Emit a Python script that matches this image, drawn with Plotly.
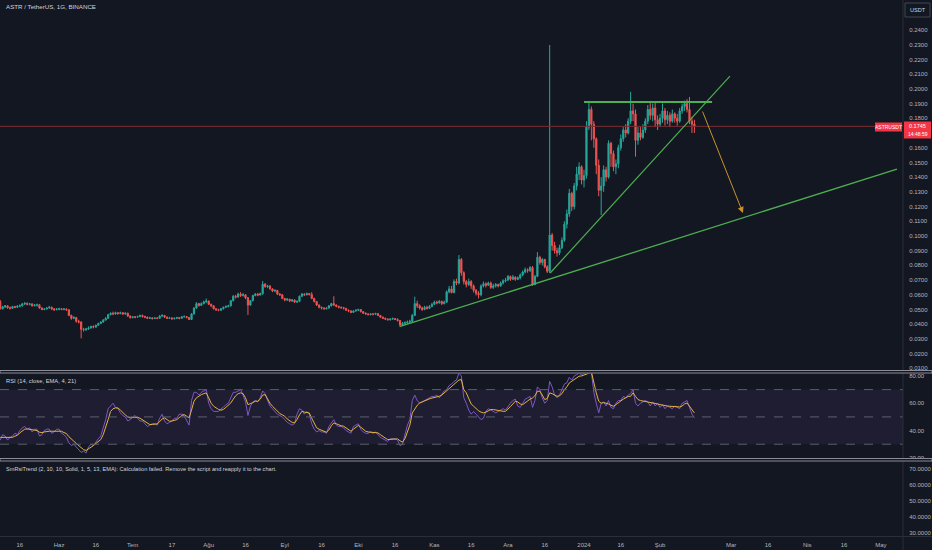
import pandas as pd
import plotly.graph_objects as go

# ASTR / TetherUS gunluk mumlar (08.05.2023 - 15.02.2024)
first_open = 0.0555

close = [
    0.0505, 0.0518, 0.0525, 0.0512, 0.0508, 0.0520, 0.0515, 0.0522, 0.0525, 0.0538,
    0.0542, 0.0535, 0.0538, 0.0525, 0.0530, 0.0532, 0.0510, 0.0500, 0.0503, 0.0510,
    0.0515, 0.0505, 0.0498, 0.0502, 0.0505, 0.0500, 0.0503, 0.0498, 0.0460, 0.0440,
    0.0445, 0.0420, 0.0415, 0.0365, 0.0362, 0.0368, 0.0375, 0.0385, 0.0380, 0.0392,
    0.0405, 0.0415, 0.0428, 0.0440, 0.0465, 0.0475, 0.0470, 0.0478, 0.0472, 0.0478,
    0.0470, 0.0475, 0.0455, 0.0445, 0.0450, 0.0448, 0.0452, 0.0460, 0.0452, 0.0448,
    0.0440, 0.0443, 0.0438, 0.0442, 0.0440, 0.0455, 0.0460, 0.0448, 0.0440, 0.0443,
    0.0437, 0.0440, 0.0445, 0.0440, 0.0450, 0.0452, 0.0445, 0.0432, 0.0470, 0.0510,
    0.0540, 0.0528, 0.0540, 0.0552, 0.0558, 0.0535, 0.0525, 0.0505, 0.0498, 0.0495,
    0.0505, 0.0515, 0.0520, 0.0525, 0.0560, 0.0590, 0.0585, 0.0605, 0.0595, 0.0600,
    0.0580, 0.0530, 0.0560, 0.0595, 0.0605, 0.0598, 0.0608, 0.0672, 0.0655, 0.0660,
    0.0640, 0.0625, 0.0630, 0.0605, 0.0600, 0.0575, 0.0565, 0.0570, 0.0558, 0.0565,
    0.0550, 0.0555, 0.0590, 0.0605, 0.0600, 0.0608, 0.0602, 0.0575, 0.0555, 0.0530,
    0.0515, 0.0510, 0.0505, 0.0510, 0.0525, 0.0540, 0.0530, 0.0522, 0.0515, 0.0512,
    0.0508, 0.0495, 0.0490, 0.0480, 0.0490, 0.0495, 0.0500, 0.0485, 0.0475, 0.0470,
    0.0465, 0.0470, 0.0468, 0.0472, 0.0460, 0.0448, 0.0440, 0.0435, 0.0430, 0.0435,
    0.0438, 0.0432, 0.0425, 0.0395, 0.0405, 0.0410, 0.0415, 0.0420, 0.0460, 0.0540,
    0.0525, 0.0510, 0.0500, 0.0515, 0.0508, 0.0520, 0.0535, 0.0550, 0.0545, 0.0555,
    0.0540, 0.0550, 0.0620, 0.0640, 0.0615, 0.0690, 0.0680, 0.0840, 0.0750, 0.0690,
    0.0670, 0.0690, 0.0660, 0.0630, 0.0610, 0.0600, 0.0660, 0.0675, 0.0665, 0.0680,
    0.0650, 0.0660, 0.0670, 0.0660, 0.0680, 0.0695, 0.0700, 0.0725, 0.0705, 0.0720,
    0.0705, 0.0715, 0.0735, 0.0755, 0.0770, 0.0765, 0.0785, 0.0670, 0.0725, 0.0855,
    0.0820, 0.0840, 0.0790, 0.0760, 0.1006, 0.0935, 0.0900, 0.0885, 0.0920, 0.0970,
    0.1080, 0.1150, 0.1290, 0.1200, 0.1340, 0.1420, 0.1470, 0.1380, 0.1410, 0.1740,
    0.1860, 0.1760, 0.1660, 0.1480, 0.1310, 0.1340, 0.1450, 0.1400, 0.1630, 0.1560,
    0.1470, 0.1490, 0.1600, 0.1660, 0.1720, 0.1700, 0.1780, 0.1850, 0.1830, 0.1650,
    0.1700, 0.1670, 0.1720, 0.1780, 0.1860, 0.1820, 0.1870, 0.1790, 0.1760, 0.1800,
    0.1850, 0.1790, 0.1820, 0.1780, 0.1830, 0.1800, 0.1780, 0.1850, 0.1880, 0.1900,
    0.1860, 0.1780, 0.1760, 0.1745,
]

high = [
    0.0565, 0.0525, 0.0530, 0.0528, 0.0520, 0.0525, 0.0525, 0.0530, 0.0535, 0.0545,
    0.0550, 0.0548, 0.0545, 0.0542, 0.0538, 0.0540, 0.0535, 0.0515, 0.0510, 0.0515,
    0.0525, 0.0520, 0.0510, 0.0510, 0.0512, 0.0510, 0.0510, 0.0508, 0.0500, 0.0465,
    0.0455, 0.0450, 0.0430, 0.0420, 0.0375, 0.0375, 0.0385, 0.0390, 0.0392, 0.0398,
    0.0410, 0.0420, 0.0435, 0.0448, 0.0470, 0.0480, 0.0485, 0.0485, 0.0482, 0.0485,
    0.0482, 0.0480, 0.0478, 0.0460, 0.0455, 0.0455, 0.0458, 0.0465, 0.0465, 0.0458,
    0.0452, 0.0450, 0.0448, 0.0448, 0.0447, 0.0462, 0.0468, 0.0462, 0.0452, 0.0450,
    0.0447, 0.0446, 0.0450, 0.0448, 0.0455, 0.0460, 0.0455, 0.0450, 0.0475, 0.0515,
    0.0550, 0.0545, 0.0548, 0.0560, 0.0575, 0.0560, 0.0540, 0.0528, 0.0510, 0.0505,
    0.0510, 0.0520, 0.0528, 0.0532, 0.0565, 0.0598, 0.0600, 0.0615, 0.0618, 0.0612,
    0.0605, 0.0585, 0.0565, 0.0600, 0.0612, 0.0612, 0.0615, 0.0694, 0.0680, 0.0668,
    0.0665, 0.0645, 0.0638, 0.0632, 0.0612, 0.0605, 0.0580, 0.0578, 0.0572, 0.0572,
    0.0568, 0.0562, 0.0595, 0.0612, 0.0610, 0.0615, 0.0612, 0.0618, 0.0580, 0.0558,
    0.0535, 0.0520, 0.0515, 0.0515, 0.0530, 0.0545, 0.0590, 0.0535, 0.0525, 0.0520,
    0.0518, 0.0510, 0.0500, 0.0495, 0.0495, 0.0500, 0.0505, 0.0502, 0.0490, 0.0480,
    0.0475, 0.0475, 0.0475, 0.0478, 0.0475, 0.0462, 0.0452, 0.0445, 0.0440, 0.0440,
    0.0445, 0.0442, 0.0440, 0.0428, 0.0415, 0.0420, 0.0425, 0.0430, 0.0470, 0.0587,
    0.0560, 0.0535, 0.0520, 0.0525, 0.0525, 0.0530, 0.0545, 0.0560, 0.0560, 0.0565,
    0.0560, 0.0560, 0.0630, 0.0660, 0.0660, 0.0705, 0.0710, 0.0870, 0.0850, 0.0760,
    0.0700, 0.0710, 0.0700, 0.0670, 0.0640, 0.0625, 0.0670, 0.0690, 0.0685, 0.0690,
    0.0690, 0.0675, 0.0680, 0.0675, 0.0690, 0.0705, 0.0715, 0.0735, 0.0730, 0.0735,
    0.0725, 0.0725, 0.0745, 0.0765, 0.0785, 0.0780, 0.0795, 0.0795, 0.0735, 0.0890,
    0.0865, 0.0850, 0.0845, 0.0800, 0.2298, 0.1020, 0.0960, 0.0920, 0.0940, 0.0990,
    0.1100, 0.1180, 0.1320, 0.1300, 0.1360, 0.1470, 0.1500, 0.1480, 0.1450, 0.1780,
    0.1913, 0.1880, 0.1780, 0.1670, 0.1520, 0.1400, 0.1480, 0.1470, 0.1650, 0.1640,
    0.1580, 0.1520, 0.1620, 0.1690, 0.1740, 0.1760, 0.1800, 0.1980, 0.1900, 0.1860,
    0.1740, 0.1740, 0.1760, 0.1800, 0.1890, 0.1910, 0.1900, 0.1910, 0.1820, 0.1830,
    0.1900, 0.1870, 0.1850, 0.1840, 0.1860, 0.1840, 0.1830, 0.1870, 0.1900, 0.1920,
    0.1930, 0.1945, 0.1810, 0.1790,
]

low = [
    0.0500, 0.0500, 0.0510, 0.0505, 0.0500, 0.0505, 0.0508, 0.0510, 0.0515, 0.0520,
    0.0530, 0.0528, 0.0528, 0.0520, 0.0522, 0.0520, 0.0505, 0.0495, 0.0495, 0.0500,
    0.0505, 0.0495, 0.0490, 0.0495, 0.0495, 0.0495, 0.0495, 0.0490, 0.0455, 0.0430,
    0.0435, 0.0410, 0.0405, 0.0304, 0.0350, 0.0355, 0.0362, 0.0370, 0.0372, 0.0378,
    0.0390, 0.0400, 0.0410, 0.0425, 0.0438, 0.0460, 0.0462, 0.0465, 0.0465, 0.0468,
    0.0462, 0.0465, 0.0450, 0.0438, 0.0440, 0.0440, 0.0445, 0.0448, 0.0445, 0.0440,
    0.0435, 0.0436, 0.0432, 0.0435, 0.0434, 0.0438, 0.0450, 0.0442, 0.0435, 0.0436,
    0.0430, 0.0432, 0.0436, 0.0433, 0.0438, 0.0445, 0.0440, 0.0428, 0.0430, 0.0465,
    0.0505, 0.0520, 0.0525, 0.0535, 0.0545, 0.0530, 0.0515, 0.0500, 0.0490, 0.0488,
    0.0490, 0.0500, 0.0510, 0.0515, 0.0520, 0.0555, 0.0575, 0.0580, 0.0585, 0.0588,
    0.0570, 0.0463, 0.0525, 0.0555, 0.0590, 0.0590, 0.0595, 0.0600, 0.0648, 0.0645,
    0.0635, 0.0618, 0.0618, 0.0598, 0.0592, 0.0570, 0.0555, 0.0558, 0.0550, 0.0552,
    0.0545, 0.0545, 0.0550, 0.0585, 0.0592, 0.0595, 0.0595, 0.0570, 0.0548, 0.0525,
    0.0508, 0.0500, 0.0498, 0.0500, 0.0505, 0.0520, 0.0525, 0.0515, 0.0508, 0.0505,
    0.0500, 0.0490, 0.0482, 0.0475, 0.0478, 0.0485, 0.0490, 0.0480, 0.0470, 0.0465,
    0.0460, 0.0460, 0.0460, 0.0462, 0.0455, 0.0442, 0.0435, 0.0428, 0.0425, 0.0425,
    0.0430, 0.0428, 0.0418, 0.0380, 0.0390, 0.0398, 0.0402, 0.0408, 0.0415, 0.0455,
    0.0510, 0.0500, 0.0490, 0.0495, 0.0500, 0.0505, 0.0515, 0.0530, 0.0535, 0.0540,
    0.0530, 0.0535, 0.0545, 0.0610, 0.0610, 0.0610, 0.0665, 0.0670, 0.0730, 0.0670,
    0.0650, 0.0660, 0.0640, 0.0615, 0.0595, 0.0576, 0.0590, 0.0650, 0.0650, 0.0660,
    0.0640, 0.0640, 0.0650, 0.0650, 0.0655, 0.0670, 0.0685, 0.0695, 0.0695, 0.0700,
    0.0695, 0.0700, 0.0705, 0.0725, 0.0745, 0.0750, 0.0755, 0.0660, 0.0665, 0.0720,
    0.0805, 0.0800, 0.0780, 0.0748, 0.0748, 0.0900, 0.0880, 0.0860, 0.0870, 0.0910,
    0.0960, 0.1050, 0.1130, 0.1170, 0.1180, 0.1310, 0.1380, 0.1350, 0.1330, 0.1390,
    0.1720, 0.1650, 0.1600, 0.1420, 0.1270, 0.1142, 0.1300, 0.1370, 0.1390, 0.1470,
    0.1440, 0.1420, 0.1460, 0.1580, 0.1640, 0.1670, 0.1690, 0.1760, 0.1780, 0.1539,
    0.1620, 0.1650, 0.1660, 0.1700, 0.1760, 0.1790, 0.1780, 0.1740, 0.1720, 0.1740,
    0.1770, 0.1750, 0.1760, 0.1740, 0.1770, 0.1770, 0.1750, 0.1770, 0.1830, 0.1850,
    0.1840, 0.1760, 0.1700, 0.1700,
]

# RSI (mor) ve EMA sinyal cizgisi (sari)
rsi = [
    33, 37, 36, 33, 35, 36, 38, 37, 40, 42,
    43, 41, 42, 39, 41, 41, 36, 37, 40, 41,
    41, 38, 39, 41, 41, 38, 37, 35, 31, 29,
    30, 28, 26, 24, 25, 23.5, 28, 30, 29, 32,
    34, 36, 42, 48, 56, 58, 60, 57, 56, 53,
    51, 50, 47, 48, 50, 51, 49, 47, 47, 45,
    43, 44, 45, 45, 44, 49, 52, 47, 45, 46,
    47, 49, 49, 52, 52, 51, 48, 44, 62, 68,
    68, 66, 68, 69, 70, 60, 56, 54, 54, 54,
    56, 57, 59, 60, 64, 68, 68, 69, 70, 66,
    61, 51, 58, 61, 62, 61, 64, 69, 67, 62,
    58, 56, 54, 52, 51, 50, 48, 46, 45, 44,
    45, 52, 56, 55, 52, 54, 52, 45, 41, 39,
    40, 39, 39, 38, 43, 46, 48, 44, 43, 43,
    42, 40, 39, 38, 43, 44, 45, 41, 39, 38,
    38, 39, 38, 39, 37, 35, 34, 33, 32, 34,
    34, 34, 33, 29, 30, 37, 44, 48, 62, 66,
    62, 60, 61, 62, 63, 64, 65, 65, 66, 64,
    67, 69, 70, 73, 74, 76, 77, 82, 80, 64,
    60, 55, 52, 54, 52, 50, 48, 49, 54, 56,
    55, 54, 53, 54, 55, 56, 55, 58, 60, 62,
    63, 58, 57, 60, 63, 64, 65, 57, 62, 72,
    70, 64, 60, 62, 76, 72, 66, 64, 66, 70,
    74, 75, 79, 77, 80, 81, 82, 81, 82, 83,
    84, 83, 68, 60, 53, 60, 61, 58, 62, 57,
    56, 60, 62, 62, 65, 64, 66, 67, 70, 60,
    58, 60, 61, 62, 61, 58, 61, 58, 60, 57,
    59, 56, 58, 57, 56, 58, 57, 56, 60, 61,
    62, 57, 52, 49.3,
]

rsi_ma = [
    35, 35, 35, 34.5, 34.6, 35, 35.9, 36.5, 38.3, 39.5,
    41, 41.2, 41, 40.7, 40.7, 40, 38.8, 38.5, 39, 39.5,
    39.5, 39.5, 39.5, 39.8, 40, 39.5, 38.5, 37.8, 35.5, 33.5,
    32.2, 30.5, 29, 27.3, 26, 25.4, 26.5, 28, 29, 30.5,
    32, 33.4, 37, 42, 48, 54, 56, 56.6, 56.6, 55,
    53, 51.5, 50, 49.3, 49.5, 49.8, 49.8, 49, 48, 47,
    45.5, 44.4, 44.5, 44.9, 44.9, 46.5, 48.5, 49.3, 48, 46.8,
    47, 47.5, 48, 49.5, 51, 51.7, 50.5, 49.3, 55, 61.5,
    64, 65.5, 66.3, 67, 67.6, 64, 60, 57.8, 56.5, 55.5,
    54.9, 55.5, 57, 58.5, 60.2, 63, 65.5, 67, 67.6, 67,
    64, 59, 59.5, 60.5, 61.5, 61.5, 63, 66, 66.3, 63,
    60, 57.8, 56, 54, 52.5, 51.5, 50.5, 48.5, 47, 46,
    45.6, 48, 51.5, 54.1, 53.5, 53, 52.9, 49, 45, 42,
    41, 40, 39.5, 38.8, 40.5, 43.5, 45.6, 45, 44, 43.5,
    43.2, 42, 40.5, 39.5, 41, 42.5, 43.7, 42.5, 41, 39.5,
    39, 38.8, 38.5, 38.5, 38.3, 37, 35.5, 34.5, 33.4, 33.5,
    33.8, 33.9, 33.9, 32.5, 31.5, 34, 39.5, 44, 52.9, 56,
    58.5, 60.2, 61, 62, 62.5, 63.2, 63.8, 64.2, 64.7, 65.1,
    66, 67.5, 68.8, 70.5, 72.5, 73.7, 75, 77, 77.3, 70,
    67.6, 63, 59.5, 57.8, 56, 54.5, 53.5, 52.9, 53.5, 54.5,
    55.4, 55.4, 55, 54.5, 54, 54.1, 54.1, 55.5, 57.5, 59.5,
    61.5, 61, 59.5, 59, 60.5, 62, 63, 63.9, 65.5, 68.8,
    68.8, 66, 62.7, 63.5, 67.6, 67, 66, 65.1, 65.5, 67,
    70, 72, 74.9, 76, 77.5, 78.5, 79.8, 80, 80.5, 81,
    82, 83, 75, 67.6, 61.5, 60, 60.5, 60.2, 59.5, 58.5,
    57.8, 59, 60.5, 61.5, 63, 64, 65, 65.1, 67.6, 65,
    62.7, 62, 61.7, 61.5, 61, 60.5, 60.2, 59.8, 59.5, 59,
    58.5, 58.2, 58, 57.8, 57.6, 57.5, 57.4, 57.3, 58, 59.5,
    60.2, 57.8, 55, 52.9,
]

last_price = 0.1745

# Zaman ekseni etiketleri
tick_dates = ['2023-05-16', '2023-06-01', '2023-06-16', '2023-07-01', '2023-07-17',
              '2023-08-01', '2023-08-16', '2023-09-01', '2023-09-16', '2023-10-01',
              '2023-10-16', '2023-11-01', '2023-11-16', '2023-12-01', '2023-12-16',
              '2024-01-01', '2024-01-16', '2024-02-01', '2024-03-01', '2024-03-16',
              '2024-04-01', '2024-04-16', '2024-05-01']
tick_text = ['16', 'Haz', '16', 'Tem', '17', 'Ağu', '16', 'Eyl', '16', 'Eki', '16', 'Kas',
             '16', 'Ara', '16', '2024', '16', 'Şub', 'Mar', '16', 'Nis', '16', 'May']

price_ticks = [0.01, 0.02, 0.03, 0.04, 0.05, 0.06, 0.07, 0.08, 0.09, 0.10, 0.11, 0.12,
               0.13, 0.14, 0.15, 0.16, 0.17, 0.18, 0.19, 0.20, 0.21, 0.22, 0.23, 0.24]
rsi_ticks = [20, 40, 60, 80]
trend_ticks = [30, 40, 50, 60, 70]

# Cizimler (trend cizgileri ve ok)
support_x = ['2023-10-18 02:00', '2024-05-07 14:00']
support_y = [0.0385, 0.1455]
rising_x = ['2023-12-18 05:00', '2024-02-29 12:00']
rising_y = [0.0748, 0.2087]
resist_x = ['2024-01-01 00:00', '2024-02-22 05:00']
resist_y = [0.191, 0.191]
arrow_x = ['2024-02-18 02:00', '2024-03-05 19:00']
arrow_y = [0.1856, 0.1156]

n = len(close)
dates = pd.date_range('2023-05-08', periods=n, freq='D')
opens = [first_open] + close[:-1]

W, H = 932, 550
BG = '#131722'
TXT = '#b2b5be'
FONT = 'Liberation Sans'
AX_END = 903 / W


def py(px):
    return 1 - px / H


fig = go.Figure()

fig.add_trace(go.Candlestick(
    x=dates, open=opens, high=high[:n], low=low[:n], close=close,
    increasing=dict(line=dict(color='#26a69a', width=1), fillcolor='#26a69a'),
    decreasing=dict(line=dict(color='#ef5350', width=1), fillcolor='#ef5350'),
    whiskerwidth=0, hoverinfo='skip', showlegend=False, xaxis='x', yaxis='y'))

fig.add_trace(go.Scatter(x=dates, y=rsi[:n], mode='lines', line=dict(color='#7e57c2', width=1),
                         hoverinfo='skip', showlegend=False, xaxis='x2', yaxis='y2'))
fig.add_trace(go.Scatter(x=dates, y=rsi_ma[:n], mode='lines', line=dict(color='#e3b341', width=1),
                         hoverinfo='skip', showlegend=False, xaxis='x2', yaxis='y2'))

# SmRsiTrend paneli hesaplanamadi: bos seri, sadece eksenler cizilsin diye
fig.add_trace(go.Scatter(x=[dates[0]], y=[None], mode='lines', hoverinfo='skip',
                         showlegend=False, xaxis='x3', yaxis='y3'))

x_range = ['2023-05-07 22:00', '2024-05-10 01:00']
common_x = dict(range=x_range, showgrid=False, zeroline=False, showline=False,
                domain=[0, AX_END], fixedrange=True)
axis_font = dict(size=6, color=TXT)

fig.update_layout(
    width=W, height=H,
    margin=dict(l=0, r=0, t=0, b=0),
    paper_bgcolor=BG, plot_bgcolor=BG,
    font=dict(family=FONT, color=TXT, size=6),
    xaxis=dict(**common_x, anchor='y', showticklabels=False, rangeslider=dict(visible=False)),
    xaxis2=dict(**common_x, anchor='y2', showticklabels=False, matches='x'),
    xaxis3=dict(**common_x, anchor='y3', matches='x', tickvals=tick_dates, ticktext=tick_text,
                tickfont=axis_font, ticks='outside', ticklen=3, tickcolor=BG, automargin=False),
    yaxis=dict(domain=[py(370), 1], range=[0.00887, 0.2604], side='right', anchor='x',
               tickvals=price_ticks, tickformat='.4f', showgrid=False, zeroline=False,
               tickfont=axis_font, ticks='outside', ticklen=4, tickcolor=BG, automargin=False),
    yaxis2=dict(domain=[py(458), py(373.5)], range=[19.9, 81.8], side='right', anchor='x2',
                tickvals=rsi_ticks, ticktext=['%.2f' % v for v in rsi_ticks], showgrid=False,
                zeroline=False, tickfont=axis_font, ticks='outside', ticklen=4,
                tickcolor=BG, automargin=False),
    yaxis3=dict(domain=[py(536), py(461)], range=[27.9, 75.2], side='right', anchor='x3',
                tickvals=trend_ticks, ticktext=['%.4f' % v for v in trend_ticks], showgrid=False,
                zeroline=False, tickfont=axis_font, ticks='outside', ticklen=4,
                tickcolor=BG, automargin=False),
)

shapes = []
# RSI bandi ve seviye cizgileri
shapes.append(dict(type='rect', xref='x2 domain', yref='y2', x0=0, x1=1, y0=30, y1=70,
                   fillcolor='rgba(126,87,194,0.10)', line=dict(width=0), layer='below'))
for lvl in [70, 50, 30]:
    shapes.append(dict(type='line', xref='x2 domain', yref='y2', x0=0, x1=1, y0=lvl, y1=lvl,
                       line=dict(color='#5d606b', width=1, dash='dash')))
# son fiyat cizgisi
shapes.append(dict(type='line', xref='x domain', yref='y', x0=0, x1=1, y0=last_price, y1=last_price,
                   line=dict(color='#7a2d33', width=1)))
# trend cizgileri
shapes.append(dict(type='line', xref='x', yref='y', x0=support_x[0], x1=support_x[1],
                   y0=support_y[0], y1=support_y[1], line=dict(color='#4caf50', width=1.3)))
shapes.append(dict(type='line', xref='x', yref='y', x0=rising_x[0], x1=rising_x[1],
                   y0=rising_y[0], y1=rising_y[1], line=dict(color='#4caf50', width=1.2)))
shapes.append(dict(type='line', xref='x', yref='y', x0=resist_x[0], x1=resist_x[1],
                   y0=resist_y[0], y1=resist_y[1], line=dict(color='#4caf50', width=2)))
# eksen kenarlari ve panel ayiricilari
shapes.append(dict(type='line', xref='paper', yref='paper', x0=AX_END, x1=AX_END, y0=0, y1=1,
                   line=dict(color='#2a2e39', width=1)))
shapes.append(dict(type='line', xref='paper', yref='paper', x0=0, x1=1, y0=py(536.5), y1=py(536.5),
                   line=dict(color='#2a2e39', width=1)))
for top in [370.5, 458.5]:
    shapes.append(dict(type='rect', xref='paper', yref='paper', x0=0, x1=1, y0=py(top + 2.5), y1=py(top),
                       fillcolor=BG, line=dict(color='#8a8d96', width=1)))
# USDT kutusu
shapes.append(dict(type='rect', xref='paper', yref='paper', x0=905 / W, x1=930 / W, y0=py(17), y1=py(3),
                   fillcolor=BG, line=dict(color='#434651', width=1)))
# fiyat etiketleri
shapes.append(dict(type='rect', xref='paper', yref='paper', x0=875 / W, x1=902 / W, y0=py(131.5), y1=py(122.5),
                   fillcolor='#f23645', line=dict(width=0)))
shapes.append(dict(type='rect', xref='paper', yref='paper', x0=904 / W, x1=931 / W, y0=py(138.5), y1=py(121.5),
                   fillcolor='#f23645', line=dict(width=0)))
fig.update_layout(shapes=shapes)

annotations = [
    dict(x=arrow_x[1], y=arrow_y[1], ax=arrow_x[0], ay=arrow_y[0], xref='x', yref='y',
         axref='x', ayref='y', showarrow=True, arrowhead=2, arrowsize=1.2, arrowwidth=1,
         arrowcolor='#c9922e', text=''),
    dict(x=4 / W, y=py(7), xref='paper', yref='paper', text='ASTR / TetherUS, 1G, BINANCE',
         showarrow=False, xanchor='left', yanchor='middle', font=dict(size=6.2, color='#d1d4dc')),
    dict(x=4 / W, y=py(381), xref='paper', yref='paper', text='RSI (14, close, EMA, 4, 21)',
         showarrow=False, xanchor='left', yanchor='middle', font=dict(size=5.8, color='#d1d4dc')),
    dict(x=4 / W, y=py(469), xref='paper', yref='paper',
         text='SmRsiTrend (2, 10, 10, Solid, 1, 5, 13, EMA): Calculation failed. '
              'Remove the script and reapply it to the chart.',
         showarrow=False, xanchor='left', yanchor='middle', font=dict(size=5.6, color='#d1d4dc')),
    dict(x=917.5 / W, y=py(10), xref='paper', yref='paper', text='USDT', showarrow=False,
         xanchor='center', yanchor='middle', font=dict(size=5.6, color='#d1d4dc')),
    dict(x=888.5 / W, y=py(127), xref='paper', yref='paper', text='ASTRUSDT', showarrow=False,
         xanchor='center', yanchor='middle', font=dict(size=5, color='white')),
    dict(x=917.5 / W, y=py(126), xref='paper', yref='paper', text='%.4f' % last_price, showarrow=False,
         xanchor='center', yanchor='middle', font=dict(size=5.5, color='white')),
    dict(x=917.5 / W, y=py(134), xref='paper', yref='paper', text='14:48:59', showarrow=False,
         xanchor='center', yanchor='middle', font=dict(size=5, color='white')),
]
fig.update_layout(annotations=annotations)

fig.write_html("out.html", config={'displayModeBar': False, 'staticPlot': True})

# sayfa kenar boslugunu kaldir
with open("out.html", encoding="utf-8") as f:
    page = f.read()
page = page.replace("<body>", '<body style="margin:0;padding:0;overflow:hidden;background:#131722">', 1)
with open("out.html", "w", encoding="utf-8") as f:
    f.write(page)
